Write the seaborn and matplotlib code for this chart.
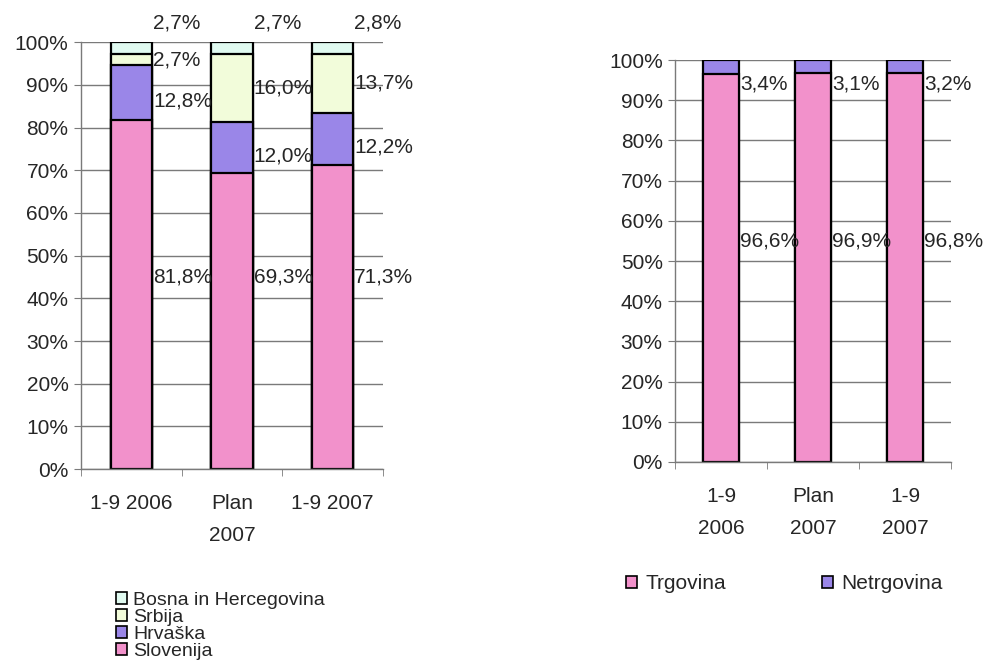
import matplotlib
matplotlib.use("Agg")
import matplotlib.pyplot as plt
import matplotlib.patches as mpatches
import numpy as np
import seaborn as sns

# Data (percent shares)
periods_left = ['1-9 2006', 'Plan\n2007', '1-9 2007']
slovenija = [81.8, 69.3, 71.3]
hrvaska = [12.8, 12.0, 12.2]
srbija = [2.7, 16.0, 13.7]
bosna = [2.7, 2.7, 2.8]

periods_right = ['1-9\n2006', 'Plan\n2007', '1-9\n2007']
trgovina = [96.6, 96.9, 96.8]
netrgovina = [3.4, 3.1, 3.2]

pink = '#F291CB'
purple = '#9A86E8'
yellow = '#F2FCDA'
cyan = '#E0FAF0'
FS = 15

sns.set_style("white")
plt.rcParams['font.family'] = ['Liberation Sans', 'DejaVu Sans']
plt.rcParams['font.size'] = FS


def fmt(v):
    return f"{v:.1f}%".replace('.', ',')


def style_axes(ax, n):
    ax.set_ylim(0, 100)
    ax.set_xlim(-0.5, n - 0.5)
    ax.set_yticks(np.arange(0, 101, 10))
    ax.set_yticklabels([f"{t}%" for t in range(0, 101, 10)], fontsize=FS)
    ax.yaxis.grid(True, color='#7a7a7a', linewidth=1.0)
    ax.set_axisbelow(True)
    for s in ['top', 'right']:
        ax.spines[s].set_visible(False)
    for s in ['left', 'bottom']:
        ax.spines[s].set_color('#7a7a7a')
        ax.spines[s].set_linewidth(1.0)
    ax.tick_params(axis='y', which='major', length=5, color='#7a7a7a', left=True, pad=4)
    ax.tick_params(axis='x', which='major', length=0, pad=18)
    ax.set_xticks(np.arange(-0.5, n, 1.0), minor=True)
    ax.tick_params(axis='x', which='minor', length=5, color='#7a7a7a', bottom=True)
    ax.set_xlabel('')
    ax.set_ylabel('')


def stacked(ax, cats, series, colors, width):
    # draw cumulative totals from the top down so the segments stack
    cum = np.cumsum(np.array(series), axis=0)
    for i in range(len(series) - 1, -1, -1):
        sns.barplot(x=cats, y=cum[i], color=colors[i], width=width,
                    edgecolor='black', linewidth=1.6, saturation=1, ax=ax)
    return cum


fig = plt.figure(figsize=(9.9, 6.71), dpi=100)

# ---- left chart ----
ax1 = fig.add_axes([0.0818, 0.301, 0.305, 0.636])
w1 = 0.41
series1 = [slovenija, hrvaska, srbija, bosna]
cum1 = stacked(ax1, periods_left, series1, [pink, purple, yellow, cyan], w1)
style_axes(ax1, len(periods_left))
ax1.set_xticks(range(len(periods_left)))
ax1.set_xticklabels(periods_left, fontsize=FS, linespacing=1.85)
for j in range(len(periods_left)):
    for i, s in enumerate(series1):
        bottom = cum1[i][j] - s[j]
        y = bottom + s[j] / 2
        if i == 0:
            y = 45
        elif i == 1:
            y -= 2
        if i == len(series1) - 1:
            y = 104.5
        ax1.text(j + w1 / 2 + 0.01, y, fmt(s[j]), ha='left', va='center',
                 fontsize=FS, clip_on=False)

# ---- right chart ----
ax2 = fig.add_axes([0.682, 0.3115, 0.279, 0.599])
w2 = 0.39
series2 = [trgovina, netrgovina]
cum2 = stacked(ax2, periods_right, series2, [pink, purple], w2)
style_axes(ax2, len(periods_right))
ax2.set_xticks(range(len(periods_right)))
ax2.set_xticklabels(periods_right, fontsize=FS, linespacing=1.85)
for j in range(len(periods_right)):
    ax2.text(j + w2 / 2 + 0.01, 55, fmt(trgovina[j]),
             ha='left', va='center', fontsize=FS)
    ax2.text(j + w2 / 2 + 0.01, 94, fmt(netrgovina[j]),
             ha='left', va='center', fontsize=FS)

# ---- legends ----
def handle(c):
    return mpatches.Patch(facecolor=c, edgecolor='black', linewidth=1.2)

fig.legend([handle(cyan), handle(yellow), handle(purple), handle(pink)],
           ['Bosna in Hercegovina', 'Srbija', 'Hrvaška', 'Slovenija'],
           loc='upper left', bbox_to_anchor=(0.117, 0.118), frameon=False,
           fontsize=14, labelspacing=0.0, handlelength=0.6, handleheight=0.6,
           handletextpad=0.3, borderpad=0, borderaxespad=0)

fig.legend([handle(pink), handle(purple)], ['Trgovina', 'Netrgovina'],
           loc='upper left', bbox_to_anchor=(0.632, 0.144), ncol=2,
           frameon=False, fontsize=FS, handlelength=0.55, handleheight=0.55,
           handletextpad=0.4, columnspacing=4.6, borderpad=0, borderaxespad=0)

fig.savefig('out.png', dpi=100)
